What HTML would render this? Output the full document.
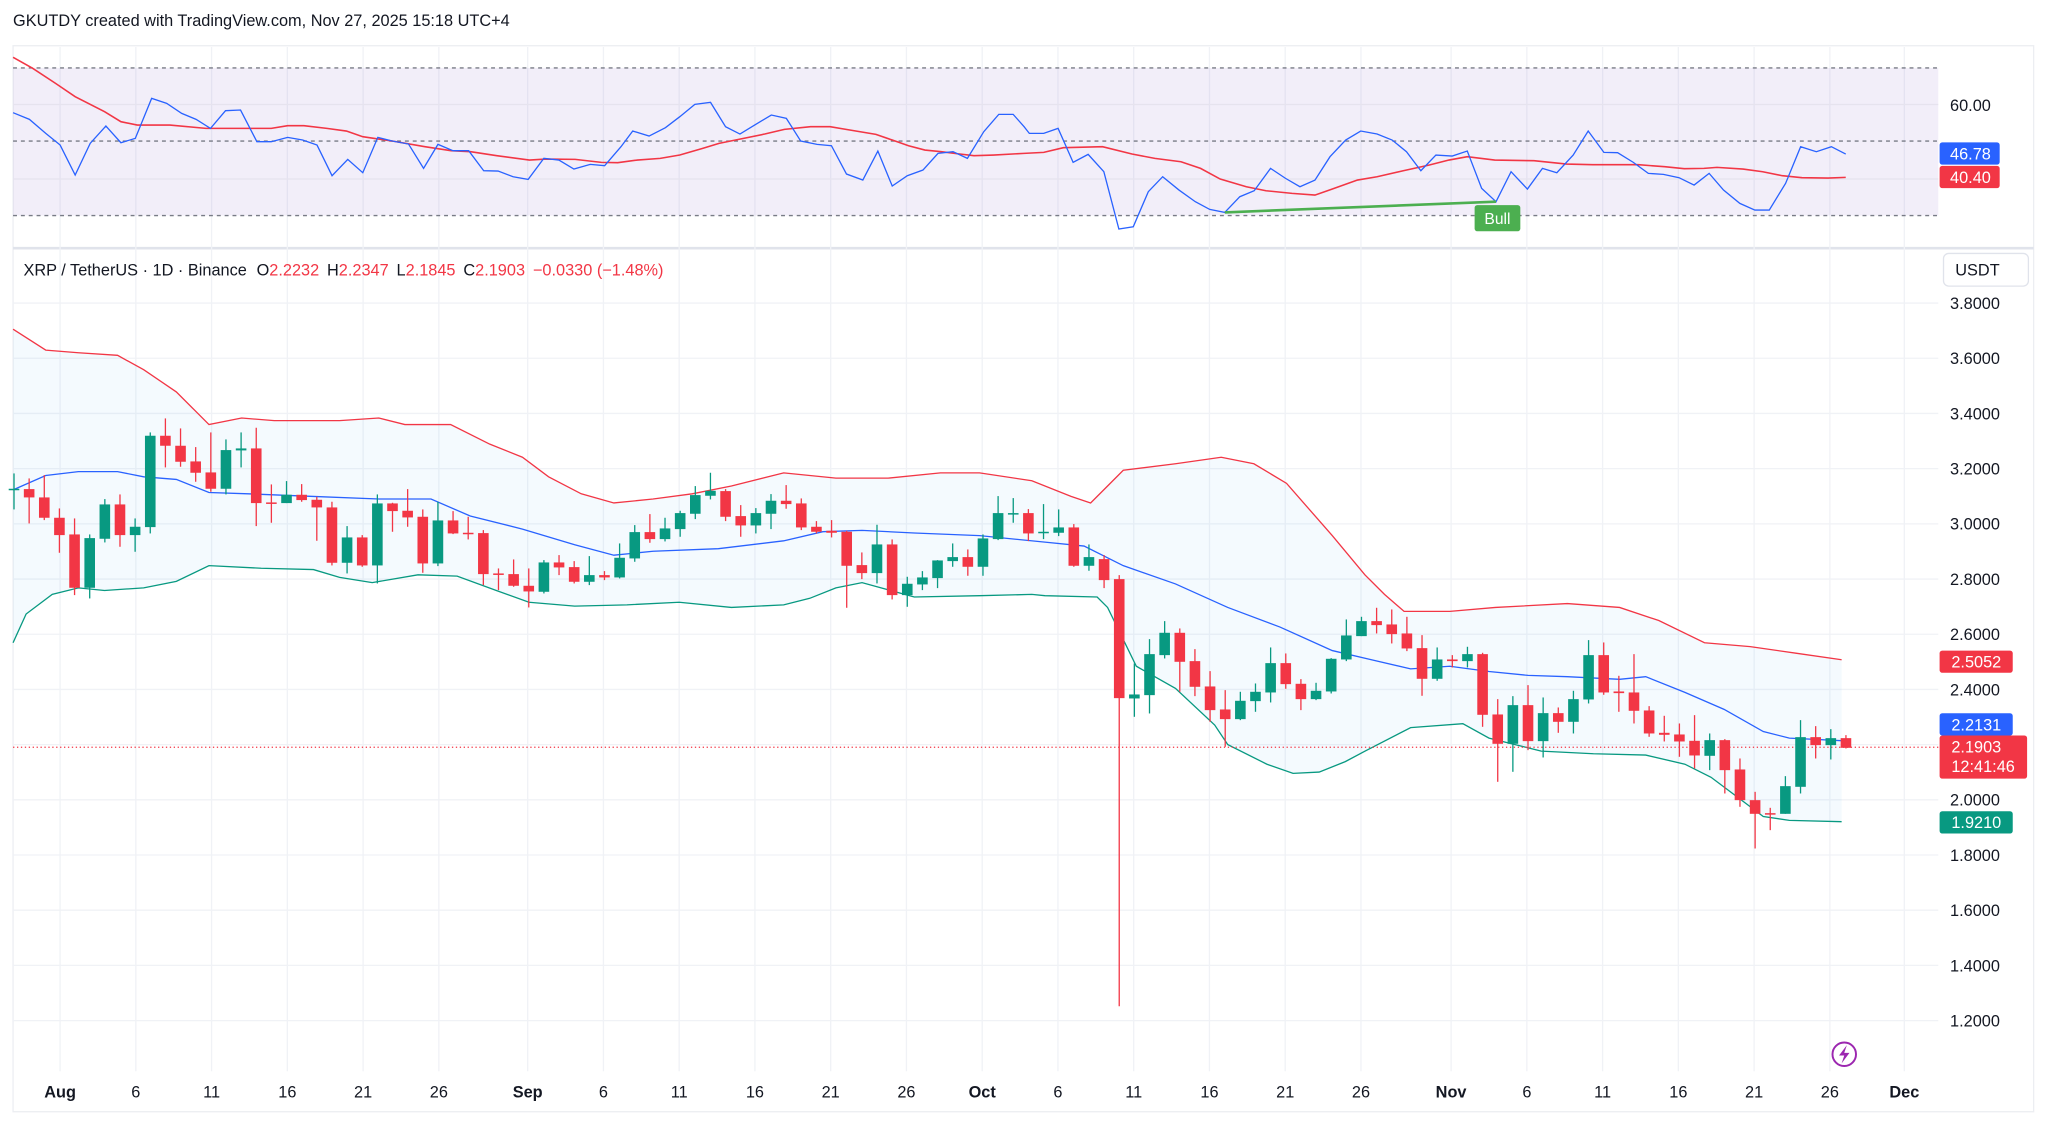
<!DOCTYPE html>
<html><head><meta charset="utf-8"><style>
html,body{margin:0;padding:0;background:#fff;}
svg{display:block;font-family:"Liberation Sans",Arial,sans-serif;}
</style></head><body>
<svg id="s" width="2048" height="1130" viewBox="0 0 1568 865" preserveAspectRatio="none" xmlns="http://www.w3.org/2000/svg">
<rect width="1568" height="865" fill="#fff"/>
<text x="10" y="20" font-size="12.5" fill="#131722">GKUTDY created with TradingView.com, Nov 27, 2025 15:18 UTC+4</text>
<!-- frame -->
<rect x="10" y="35" width="1547" height="816" fill="none" stroke="#eceef2" stroke-width="1"/>
<line x1="10" y1="190" x2="1557" y2="190" stroke="#e0e3eb" stroke-width="2"/>
<g id="vgrid"></g>
<!-- RSI pane -->
<rect x="10" y="52" width="1474" height="113" fill="#7e57c2" fill-opacity="0.1"/>
<line x1="10" y1="80" x2="1484" y2="80" stroke="#e6e3ee" stroke-width="1"/>
<line x1="10" y1="137" x2="1484" y2="137" stroke="#e6e3ee" stroke-width="1"/>
<g stroke="#787b86" stroke-width="1" stroke-dasharray="3,3">
<line x1="10" y1="52" x2="1484" y2="52"/><line x1="10" y1="108" x2="1484" y2="108"/><line x1="10" y1="165" x2="1484" y2="165"/>
</g>
<g id="rsi"></g>
<text x="1493" y="85" font-size="12.5" fill="#131722">60.00</text>
<rect x="1485" y="109" width="46" height="17" rx="2" fill="#2962ff"/><text x="1493" y="122" font-size="12.5" fill="#fff">46.78</text>
<rect x="1485" y="127" width="46" height="17" rx="2" fill="#f23645"/><text x="1493" y="140" font-size="12.5" fill="#fff">40.40</text>
<!-- main pane -->
<g id="hgrid"></g>
<g id="bands"></g>
<line x1="10" y1="572" x2="1484" y2="572" stroke="#f23645" stroke-width="1" stroke-dasharray="1,2"/>
<g id="candles"></g>
<text x="18" y="211" font-size="12.5" fill="#131722">XRP / TetherUS · 1D · Binance <tspan dx="4">O</tspan><tspan fill="#f23645">2.2232</tspan><tspan dx="6">H</tspan><tspan fill="#f23645">2.2347</tspan><tspan dx="6">L</tspan><tspan fill="#f23645">2.1845</tspan><tspan dx="6">C</tspan><tspan fill="#f23645">2.1903</tspan><tspan dx="6" fill="#f23645">−0.0330 (−1.48%)</tspan></text>
<rect x="1488" y="194" width="65" height="25" rx="4" fill="#fff" stroke="#e0e3eb"/>
<text x="1497" y="211" font-size="12.5" fill="#131722">USDT</text>
<g id="paxis" font-size="12.5" fill="#131722"></g>
<rect x="1485" y="498" width="56" height="17" rx="2" fill="#f23645"/><text x="1494" y="511" font-size="12.5" fill="#fff">2.5052</text>
<rect x="1485" y="546" width="56" height="17" rx="2" fill="#2962ff"/><text x="1494" y="559" font-size="12.5" fill="#fff">2.2131</text>
<rect x="1485" y="563" width="67" height="33" rx="2" fill="#f23645"/><text x="1494" y="576" font-size="12.5" fill="#fff">2.1903</text><text x="1494" y="591" font-size="12.5" fill="#fff">12:41:46</text>
<rect x="1485" y="621" width="56" height="17" rx="2" fill="#089981"/><text x="1494" y="634" font-size="12.5" fill="#fff">1.9210</text>
<g id="taxis" font-size="12.5" fill="#131722" text-anchor="middle"></g>
<circle cx="1412" cy="807" r="9" fill="none" stroke="#9c27b0" stroke-width="1.5"/>
<path d="M1414,800 L1408,808 L1412,808 L1410,814 L1416,806 L1412,806 Z" fill="#9c27b0"/>
</svg>
<script>
var NS="http://www.w3.org/2000/svg";
function el(p,t,a){var e=document.createElementNS(NS,t);for(var k in a)e.setAttribute(k,a[k]);document.getElementById(p).appendChild(e);return e;}
// time axis
var tl=[["Aug",46,1],["6",104],["11",162],["16",220],["21",278],["26",336],["Sep",404,1],["6",462],["11",520],["16",578],["21",636],["26",694],["Oct",752,1],["6",810],["11",868],["16",926],["21",984],["26",1042],["Nov",1111,1],["6",1169],["11",1227],["16",1285],["21",1343],["26",1401],["Dec",1458,1]];
tl.forEach(function(t){el("vgrid","line",{x1:t[1],x2:t[1],y1:36,y2:820,stroke:"#f0f2f6","stroke-width":1});
var tx=el("taxis","text",{x:t[1],y:840});tx.textContent=t[0];if(t[2])tx.setAttribute("font-weight","bold");});
// price axis
for(var i=0;i<14;i++){var p=3.8-i*0.2,y=232+i*42.25;el("hgrid","line",{x1:10,x2:1484,y1:y,y2:y,stroke:"#f0f2f6","stroke-width":1});
var t=el("paxis","text",{x:1493,y:y+4.5});t.textContent=p.toFixed(4);}
function pts(a){return a.map(function(p){return p[0]+","+p[1]}).join(" ");}
// RSI
function z1(a){return a.map(function(p){return [p[0]/1.53/1.306,p[1]/3/1.306]});}
function z2(a){return a.map(function(p){return [(1024+p[0]/1.53)/1.306,p[1]/3/1.306]});}
var rb=z1([[20,338],[45,358],[70,400],[92,435],[115,525],[138,430],[162,378],[185,428],[207,415],[232,295],[255,310],[278,340],[300,358],[322,385],[345,332],[368,330],[393,425],[415,425],[440,412],[463,420],[485,435],[508,527],[532,478],[555,518],[578,412],[600,423],[625,432],[648,505],[670,433],[693,452],[717,452],[740,512],[762,513],[785,530],[808,538],[832,475],[855,480],[878,507],[903,493],[925,497],[950,440],[968,393],[993,408],[1018,383],[1040,350],[1063,313],[1087,307],[1110,380],[1132,402],[1157,372],[1180,345],[1203,355],[1225,423],[1250,433],[1272,437],[1295,522],[1320,540],[1343,453],[1365,558],[1388,527],[1412,510],[1435,460],[1458,455],[1480,475],[1505,395],[1528,343],[1550,343]]).concat(z2([[0,380],[8,400],[30,400],[52,385],[75,487],[98,463],[122,515],[145,687],[167,680],[190,575],[212,530],[237,570],[262,605],[284,628],[307,637],[330,590],[352,572],[377,505],[400,535],[422,560],[445,540],[468,470],[492,420],[515,393],[540,402],[563,420],[585,455],[607,512],[630,465],[655,468],[678,453],[700,565],[722,605],[745,515],[770,567],[793,505],[815,518],[840,465],[863,393],[887,457],[908,458],[932,487],[955,520],[978,523],[1002,533],[1025,555],[1048,520],[1070,570],[1095,610],[1118,630],[1140,630],[1165,550],[1188,440],[1212,455],[1235,440],[1257,462]]));
var rr=z1([[20,172],[50,205],[85,250],[115,290],[160,335],[185,365],[210,375],[260,375],[315,385],[415,385],[440,377],[465,377],[500,385],[530,393],[555,410],[600,423],[650,440],[690,452],[720,455],[760,467],[810,480],[835,477],[880,478],[920,487],[945,488],[975,480],[1010,475],[1040,465],[1075,445],[1100,430],[1130,418],[1170,402],[1200,388],[1240,380],[1270,380],[1300,390],[1340,403],[1365,420],[1390,437],[1415,450],[1440,455],[1460,460],[1490,467],[1520,465]]).concat(z2([[0,460],[30,457],[60,443],[120,440],[165,462],[200,475],[240,485],[270,505],[300,537],[340,560],[370,572],[410,580],[445,585],[470,568],[510,540],[540,530],[580,512],[620,495],[650,480],[678,470],[720,480],[780,482],[830,492],[870,494],[940,494],[980,500],[1010,506],[1040,505],[1060,502],[1100,507],[1130,515],[1160,527],[1190,533],[1230,534],[1257,532]]));
el("rsi","polyline",{points:pts(rr),fill:"none",stroke:"#f23645","stroke-width":1.2});
el("rsi","polyline",{points:pts(rb),fill:"none",stroke:"#2962ff","stroke-width":1});
var g=z2([[307,637],[722,605]]);
el("rsi","line",{x1:g[0][0],y1:g[0][1],x2:g[1][0],y2:g[1][1],stroke:"#4caf50","stroke-width":2});
el("rsi","rect",{x:1129,y:157,width:35,height:20,rx:2,fill:"#4caf50"});
var bt=el("rsi","text",{x:1146.5,y:171.5,"font-size":12,fill:"#fff","text-anchor":"middle"});bt.textContent="Bull";
// bands
var up=[[10,252],[35,268],[60,270],[90,272],[110,283],[135,300],[160,325],[185,320],[210,322],[260,322],[290,320],[310,325],[345,325],[375,340],[400,350],[420,365],[445,378],[470,385],[500,382],[530,378],[560,372],[600,362],[640,366],[680,366],[720,362],[750,362],[790,368],[820,380],[835,385],[850,370],[860,360],[900,355],[935,350],[960,355],[985,370],[1020,410],[1045,440],[1060,455],[1075,468],[1110,468],[1145,465],[1200,462],[1240,465],[1270,475],[1305,492],[1340,495],[1375,500],[1410,505]];
var mid=[[10,375],[35,364],[60,361],[90,361],[110,365],[135,367],[160,377],[190,378],[240,380],[290,382],[330,382],[360,395],[400,405],[440,417],[470,425],[500,422],[550,420],[600,414],[630,407],[660,406],[700,408],[750,410],[800,415],[830,418],[860,433],[900,447],[940,465],[980,480],[1020,498],[1050,505],[1080,512],[1110,510],[1140,514],[1170,517],[1200,518],[1240,520],[1260,518],[1290,530],[1320,543],[1350,560],[1370,565],[1410,567]];
var lo=[[10,492],[20,470],[40,455],[60,450],[80,452],[110,450],[135,445],[160,433],[200,435],[240,436],[260,442],[285,446],[320,440],[350,441],[380,452],[405,461],[440,464],[480,463],[520,461],[560,465],[600,463],[620,458],[640,450],[660,446],[700,457],[750,456],[790,455],[800,456],[840,457],[848,465],[870,510],[900,527],[930,555],[940,570],[970,585],[990,592],[1010,591],[1030,583],[1045,575],[1080,557],[1120,554],[1140,565],[1160,570],[1180,575],[1220,577],[1260,578],[1290,585],[1310,595],[1330,610],[1350,625],[1370,628],[1410,629]];
el("bands","polygon",{points:pts(up.concat(lo.slice().reverse())),fill:"#2196f3","fill-opacity":"0.05"});
el("bands","polyline",{points:pts(up),fill:"none",stroke:"#f23645","stroke-width":1});
el("bands","polyline",{points:pts(mid),fill:"none",stroke:"#2962ff","stroke-width":1});
el("bands","polyline",{points:pts(lo),fill:"none",stroke:"#089981","stroke-width":1});
// candles (actual coords)
var C=[];
function add(y0,arr,start){arr.forEach(function(c,k){C.push([start+k,y0+c[0]/3,y0+c[1]/3,y0+c[2]/3,y0+c[3]/3,c[4]]);});}
add(380,[[326,330,280,388,1],[327,352,295,430,0],[352,413,285,420,0],[413,465,385,518,0],[463,623,415,645,0],[474,623,463,655,1],[373,476,357,487,1],[373,465,343,500,0],[440,465,415,515,1],[167,441,157,460,1],[167,197,115,262,0],[197,245,145,260,0],[244,278,201,305,0],[277,326,157,335,0],[210,326,178,343,1],[205,211,157,262,1],[205,369,143,438,0],[367,370,313,428,0],[344,369,303,369,1],[344,360,312,365,0],[359,382,350,482,0],[382,548,365,556,0],[472,548,438,580,1],[472,556,465,560,0],[370,556,343,610,1],[370,393,368,455,0],[392,412,327,440,0],[410,550,388,578,0],[421,550,365,558,1],[421,460,393,462,0],[458,460,410,478,0],[459,582,450,615,0],[580,583,565,630,0],[582,617,538,620,0],[617,634,565,682,0]],0);
add(450,[[337,425,330,430,1],[337,352,315,375,0],[351,395,333,400,0],[375,395,318,405,1],[375,382,363,390,0],[323,382,280,385,1],[246,325,225,335,1],[246,267,192,278,0],[235,267,203,274,1],[189,237,182,260,1],[135,191,108,207,1],[122,137,68,148,1],[123,200,117,213,0],[198,226,165,260,0],[189,226,174,250,1],[152,191,132,237,1],[152,162,105,176,0],[160,232,145,240,0],[230,245,213,250,0],[242,248,210,262,0],[245,347,242,473,0],[345,369,307,387,0],[283,369,224,400,1],[283,435,268,448,0],[401,435,380,470,1],[382,403,363,420,1],[331,384,330,414,1],[321,333,280,350,1],[321,350,298,377,0],[265,350,253,377,1],[189,267,138,270,1],[189,191,144,218,1],[189,250,177,273,0],[245,248,162,267,1],[232,248,178,258,1],[232,347,222,350,0],[321,347,283,362,1]],35);
C.push([72,559,580,555,588,0]);C.push([73,579,698,575,1006,0]);
add(580,[[343,355,250,410,1],[222,345,177,400,1],[158,225,123,235,1],[158,245,145,335,0],[243,320,207,348,0],[319,390,273,425,0],[388,417,330,500,0],[362,417,335,420,1],[335,363,310,395,1],[249,337,202,367,1],[249,312,220,326,0],[311,357,297,390,0],[332,357,308,360,1],[236,334,234,340,1],[166,238,118,243,1],[123,168,110,168,1],[123,135,83,160,0],[133,162,88,190,0],[160,205,110,213,0],[204,296,165,347,0],[238,296,202,302,1],[238,243,225,262,0],[222,243,200,262,1],[222,404,218,440,0]],74);
add(620,[[283,371,237,485,0],[255,371,228,455,1],[255,363,195,390,0],[279,363,232,412,1],[279,305,262,338,0],[237,305,212,340,1],[105,238,60,250,1],[105,217,67,224,0],[214,219,167,275,0],[217,272,102,310,0],[271,340,258,350,0],[338,344,287,364,0],[343,364,310,410,0],[362,406,285,445,0],[360,407,340,450,1],[360,450,357,520,0],[448,540,415,560,0],[540,581,515,685,0],[579,582,563,630,0],[498,581,468,581,1],[351,500,300,520,1],[351,375,318,415,0],[354,375,327,418,1],[354,383,345,385,0]],98);
var cg=document.getElementById("candles");cg.setAttribute("transform","scale(0.76563)");
C.forEach(function(c){var x=14+c[0]*15.14,col=c[5]?"#089981":"#f23645";
el("candles","line",{x1:x,x2:x,y1:c[3],y2:c[4],stroke:col,"stroke-width":1.3});
var h=Math.max(c[2]-c[1],1.5);el("candles","rect",{x:x-5.3,y:c[1],width:10.6,height:h,fill:col});});
</script>
</body></html>
